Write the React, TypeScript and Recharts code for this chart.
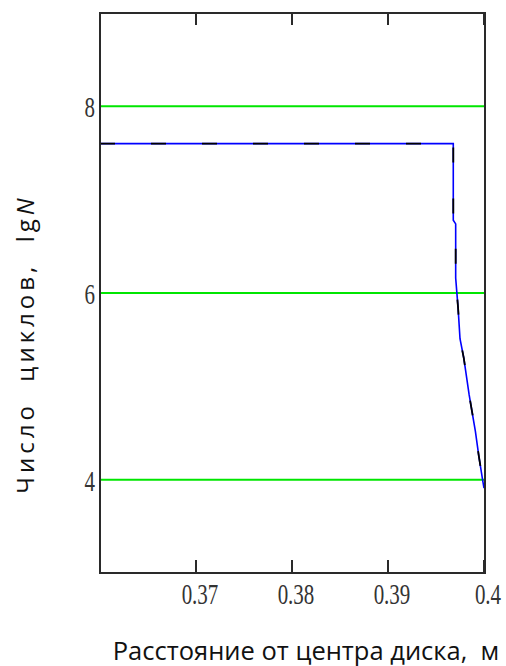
import React from "react";
import {
  LineChart,
  Line,
  XAxis,
  YAxis,
  CartesianGrid,
} from "recharts";

// distance from disc centre, m
const distance = [
  0.36, 0.3968, 0.3968, 0.39705, 0.39705, 0.3973, 0.3975, 0.3979, 0.39845,
  0.3991, 0.39945, 0.39985, 0.4,
];
// cycle count, lgN
const lgN = [
  7.6, 7.6, 6.78, 6.74, 6.16, 5.84, 5.51, 5.3, 4.91, 4.52, 4.26, 4.0, 3.91,
];

const xTicks = [0.37, 0.38, 0.39, 0.4];
const yTicks = [4, 6, 8];
const xDomain = [0.36, 0.4];
const yDomain = [3, 9];

const data = distance.map((d, i) => ({ d, n: lgN[i] }));

const frame = "#2a2a2a";
const tickFont = "'Liberation Serif', serif";
const plotTop = 13;
const plotBottom = 573;
const plotLeft = 100;
const plotRight = 484;

// inward ticks on the bottom edge, mirrored on the top edge
const BottomTick = (props: any) => {
  const { x, payload } = props;
  return (
    <g>
      <line x1={x} x2={x} y1={plotBottom} y2={plotBottom - 13} stroke={frame} strokeWidth={2} />
      <line x1={x} x2={x} y1={plotTop} y2={plotTop + 12} stroke={frame} strokeWidth={2} />
      <text
        transform={`translate(${x + 4},${plotBottom + 31}) scale(1,1.38)`}
        textAnchor="middle"
        fontFamily={tickFont}
        fontSize={21}
        fill="#333"
      >
        {String(payload.value)}
      </text>
    </g>
  );
};

const LeftTick = (props: any) => {
  const { y, payload } = props;
  return (
    <text
      transform={`translate(95,${y + 11}) scale(1,1.38)`}
      textAnchor="end"
      fontFamily={tickFont}
      fontSize={21}
      fill="#333"
    >
      {payload.value}
    </text>
  );
};

const App: React.FC = () => {
  const tickX = (t: number) =>
    plotLeft + ((t - xDomain[0]) / (xDomain[1] - xDomain[0])) * (plotRight - plotLeft);
  return (
    <div style={{ position: "absolute", left: 0, top: 0 }}>
      <LineChart
        width={506}
        height={666}
        data={data}
        margin={{ top: plotTop, right: 22, left: 0, bottom: 0 }}
      >
        <CartesianGrid
          horizontalValues={yTicks}
          vertical={false}
          stroke="#00e600"
          strokeWidth={2}
        />
        <XAxis
          dataKey="d"
          type="number"
          domain={xDomain}
          ticks={xTicks}
          height={93}
          tickLine={false}
          axisLine={{ stroke: frame, strokeWidth: 2 }}
          tick={<BottomTick />}
        />
        <YAxis
          type="number"
          domain={yDomain}
          ticks={yTicks}
          width={100}
          tickLine={false}
          axisLine={{ stroke: frame, strokeWidth: 2 }}
          tick={<LeftTick />}
        />
        <Line
          type="linear"
          dataKey="n"
          stroke="#0000ff"
          strokeWidth={1.6}
          dot={false}
          isAnimationActive={false}
        />
        <Line
          type="linear"
          dataKey="n"
          stroke="#000"
          strokeWidth={1.8}
          strokeDasharray="15 36"
          dot={false}
          isAnimationActive={false}
        />
      </LineChart>
      {/* plot frame */}
      <div
        style={{
          position: "absolute",
          left: plotLeft - 1,
          top: plotTop - 1,
          width: plotRight - plotLeft + 3,
          height: plotBottom - plotTop + 2,
          boxSizing: "border-box",
          border: `2px solid ${frame}`,
          pointerEvents: "none",
        }}
      />
      {xTicks.map((t) => (
        <div
          key={t}
          style={{
            position: "absolute",
            left: tickX(t) - 1,
            top: plotTop,
            width: 2,
            height: 12,
            background: frame,
            pointerEvents: "none",
          }}
        />
      ))}
      <div
        style={{
          position: "absolute",
          left: 306,
          top: 650,
          transform: "translate(-50%, -50%)",
          whiteSpace: "nowrap",
          fontFamily: "'Open Sans', sans-serif",
          fontSize: 25.5,
          color: "#111",
        }}
      >
        Расстояние от центра диска,&nbsp; м
      </div>
      <div
        style={{
          position: "absolute",
          left: 24,
          top: 344,
          transform: "translate(-50%, -50%) rotate(-90deg)",
          whiteSpace: "nowrap",
          fontFamily: "'Open Sans', sans-serif",
          fontSize: 24,
          letterSpacing: 4,
          color: "#111",
        }}
      >
        Число&nbsp; циклов,&nbsp; lg<i>N</i>
      </div>
    </div>
  );
};

export default App;
